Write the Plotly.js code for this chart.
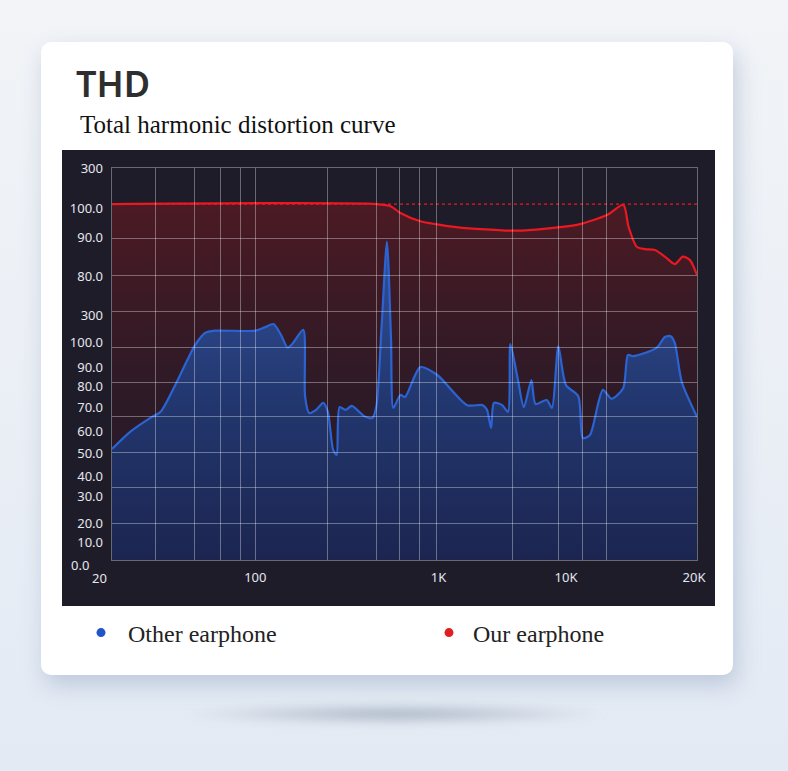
<!DOCTYPE html>
<html>
<head>
<meta charset="utf-8">
<script src="https://cdn.plot.ly/plotly-3.0.1.min.js"></script>
<style>
html, body { margin: 0; padding: 0; }
body { width: 788px; height: 771px; overflow: hidden; position: relative; background: linear-gradient(#f2f4f7, #e3eaf4); }
#card { position: absolute; left: 41px; top: 42px; width: 692px; height: 633px; background: #fff; border-radius: 10px; box-shadow: 4px 10px 22px rgba(140,160,190,0.45); }
#panel { position: absolute; left: 62px; top: 150px; width: 653px; height: 456px; background: #1d1c28; }
#floor { position: absolute; left: 180px; top: 703px; width: 430px; height: 22px; border-radius: 50%; background: radial-gradient(ellipse at center, rgba(150,162,178,0.75), rgba(200,210,225,0) 70%); filter: blur(4px); }
#chart { position: absolute; left: 0; top: 0; width: 788px; height: 771px; }
</style>
</head>
<body>
<div id="floor"></div>
<div id="card"></div>
<div id="panel"></div>
<div id="chart"></div>
<script>
// position along the frequency axis (0-100) and level (0-100)
var otherX = [0, 3.1, 6.5, 8.3, 10.8, 14.2, 15.9, 17.6, 24.5, 26.2, 27.6, 28.9, 30.0, 30.8, 32.7,
    33.0, 33.7, 34.9, 36.1, 36.9, 37.8, 38.4, 38.9, 39.9, 41.0, 43.1, 44.5, 45.2, 46.1, 47.0,
    47.7, 48.1, 49.3, 50.1, 52.7, 55.6, 60.7, 63.4, 64.1, 64.8, 65.3, 66.7, 67.7, 68.1, 69.3,
    70.4, 71.7, 72.4, 74.3, 75.2, 76.3, 77.6, 79.7, 80.5, 81.7, 83.9, 85.4, 87.4, 88.2, 89.1,
    93.1, 94.5, 95.5, 96.2, 97.4, 100];
var otherY = [28.3, 32.7, 36.2, 37.8, 44.6, 54.8, 57.9, 58.5, 58.5, 59.4, 60.2, 57.4, 54.2, 55.1, 58.7,
    41.8, 37.5, 38.3, 40.1, 37.8, 28.1, 26.8, 39.0, 38.3, 39.3, 36.7, 36.2, 39.3, 60.0, 81.2,
    56.1, 38.8, 42.1, 41.6, 49.2, 47.2, 39.5, 39.5, 38.3, 33.7, 40.1, 39.5, 37.8, 55.1, 46.7,
    39.0, 45.9, 39.8, 40.8, 38.8, 54.5, 44.6, 41.8, 31.1, 31.9, 43.4, 41.1, 43.9, 52.3, 52.0,
    54.1, 56.9, 57.1, 55.4, 45.4, 36.5];

var ourX = [0, 45.2, 47.7, 49.3, 52.7, 55.6, 58.8, 63.0, 68.3, 72.5, 76.6, 80.0, 84.6, 87.4,
    88.3, 89.7, 91.1, 92.8, 94.5, 96.2, 97.6, 98.8, 100];
var ourY = [90.8, 90.8, 90.2, 88.5, 86.4, 85.6, 84.9, 84.4, 84.0, 84.3, 84.9, 85.7, 88.0, 90.6,
    85.0, 79.9, 79.3, 79.1, 77.4, 75.5, 77.4, 76.5, 72.7];

var refX = [0, 100];
var refY = [90.8, 90.8];

var xLabels = ['100', '1K', '10K', '20K'];
var xLabelPos = [24.5, 55.8, 77.6, 99.5];
var yLabels = ['300', '100.0', '90.0', '80.0', '300', '100.0', '90.0', '80.0', '70.0', '60.0',
    '50.0', '40.0', '30.0', '20.0', '10.0'];
var yLabelPos = [100, 89.8, 82.4, 72.4, 62.5, 55.4, 49.2, 44.4, 39.0, 32.7, 27.3, 21.2, 16.3, 9.4, 4.6];
var xGrid = [0, 7.5, 14.1, 18.6, 21.9, 24.5, 36.8, 45.2, 49.1, 52.5, 55.4, 68.4, 76.4, 80.4, 84.5, 100];
var yGrid = [0, 9.2, 18.4, 27.3, 36.5, 45.4, 54.3, 63.5, 72.7, 82.1, 100];

var W = 788, H = 771;
var m = { l: 112, r: 91, t: 168, b: 211, pad: 0, autoexpand: false };
function px2x(px) { return (px - m.l) / (W - m.l - m.r); }
function py2y(py) { return (H - m.b - py) / (H - m.t - m.b); }

var blue = '#2b64d2';
var red = '#ea1820';
var tickFont = { family: 'Noto Sans', size: 13, color: '#e6e6ee' };
var legendFont = { family: 'Liberation Serif', size: 24, color: '#222' };

var other = {
    x: otherX, y: otherY, type: 'scatter', mode: 'lines', name: 'Other earphone',
    line: { color: blue, width: 2.2, shape: 'spline', smoothing: 0.7 },
    fill: 'tozeroy',
    fillgradient: { type: 'vertical', start: 0, stop: 81,
        colorscale: [[0, '#1c2550'], [0.5, '#22376f'], [0.75, '#2a4384'], [1, '#30509a']] },
    showlegend: false, hoverinfo: 'skip'
};

var ours = {
    x: ourX, y: ourY, type: 'scatter', mode: 'lines', name: 'Our earphone',
    line: { color: red, width: 2.2, shape: 'spline', smoothing: 0.7 },
    fill: 'tonexty',
    fillgradient: { type: 'vertical', start: 0, stop: 91,
        colorscale: [[0, '#241a2a'], [0.45, '#2d1a27'], [0.7, '#391a25'], [1, '#4c1a24']] },
    showlegend: false, hoverinfo: 'skip'
};

var refLine = {
    x: refX, y: refY, type: 'scatter', mode: 'lines',
    line: { color: red, width: 1.2, dash: 'dot' },
    showlegend: false, hoverinfo: 'skip'
};

// empty trace so the grid-only subplot gets drawn above the fills
var gridHolder = { x: [], y: [], type: 'scatter', xaxis: 'x2', yaxis: 'y2', showlegend: false, hoverinfo: 'skip' };

var legOther = { x: [null], y: [null], type: 'scatter', mode: 'markers', name: 'Other earphone',
    marker: { color: '#1f55c8', size: 9 }, legend: 'legend' };
var legOurs = { x: [null], y: [null], type: 'scatter', mode: 'markers', name: 'Our earphone',
    marker: { color: '#e02020', size: 9 }, legend: 'legend2' };

var gridColor = 'rgba(255,255,255,0.34)';

function legendAt(px, iw) {
    return { xref: 'container', yref: 'container', x: px / W, y: 1 - 633 / H, xanchor: 'left', yanchor: 'middle',
        itemwidth: iw, bgcolor: 'rgba(0,0,0,0)', font: legendFont };
}

var layout = {
    width: W, height: H,
    margin: m,
    paper_bgcolor: 'rgba(0,0,0,0)',
    plot_bgcolor: 'rgba(0,0,0,0)',
    xaxis: { range: [0, 100], tickvals: xLabelPos, ticktext: xLabels, showgrid: false, zeroline: false,
        ticks: '', ticklabelstandoff: 8, tickfont: tickFont, fixedrange: true },
    yaxis: { range: [0, 100], tickvals: yLabelPos, ticktext: yLabels, showgrid: false, zeroline: false,
        ticks: '', ticklabelstandoff: 8, tickfont: tickFont, fixedrange: true },
    xaxis2: { range: [0, 100], anchor: 'y2', tickvals: xGrid, showticklabels: false, showgrid: true,
        gridcolor: gridColor, gridwidth: 1, zeroline: false, ticks: '', showline: true, mirror: true,
        linecolor: gridColor, linewidth: 1, fixedrange: true },
    yaxis2: { range: [0, 100], anchor: 'x2', tickvals: yGrid, showticklabels: false, showgrid: true,
        gridcolor: gridColor, gridwidth: 1, zeroline: false, ticks: '', showline: true, mirror: true,
        linecolor: gridColor, linewidth: 1, fixedrange: true },
    showlegend: true,
    legend: legendAt(74, 44),
    legend2: legendAt(425, 38),
    annotations: [
        { text: 'THD', xref: 'paper', yref: 'paper', x: px2x(74), y: py2y(83), xanchor: 'left', yanchor: 'middle',
            showarrow: false, font: { family: 'Noto Sans', size: 36, weight: 600, color: '#2e2e2e' } },
        { text: 'Total harmonic distortion curve', xref: 'paper', yref: 'paper', x: px2x(78), y: py2y(124),
            xanchor: 'left', yanchor: 'middle', showarrow: false,
            font: { family: 'Liberation Serif', size: 25, color: '#111' } },
        { text: '20', xref: 'paper', yref: 'paper', x: px2x(99), y: py2y(578), xanchor: 'center', yanchor: 'middle',
            showarrow: false, font: tickFont },
        { text: '0.0', xref: 'paper', yref: 'paper', x: px2x(91), y: py2y(565), xanchor: 'right', yanchor: 'middle',
            showarrow: false, font: tickFont }
    ]
};

var config = { displayModeBar: false, staticPlot: true };

Plotly.newPlot('chart', [other, ours, refLine, gridHolder, legOther, legOurs], layout, config);
</script>
</body>
</html>
